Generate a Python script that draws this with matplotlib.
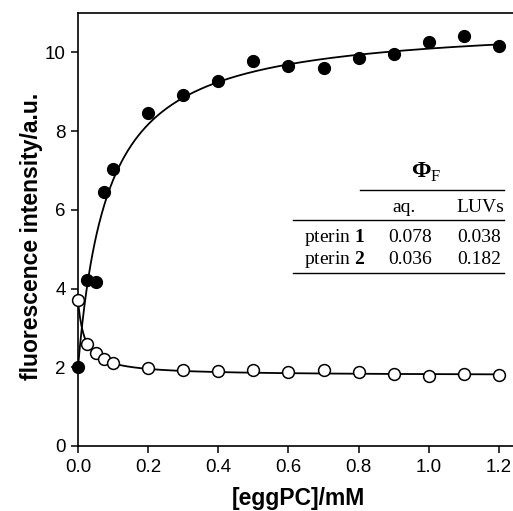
import numpy as np
import matplotlib.pyplot as plt

plt.rcParams["mathtext.fontset"] = "custom"
plt.rcParams["mathtext.rm"] = "Liberation Serif"
plt.rcParams["mathtext.bf"] = "Liberation Serif:bold"

# pterin 1 (filled) and pterin 2 (open) vs eggPC concentration
conc = [0.0, 0.025, 0.05, 0.075, 0.1, 0.2, 0.3, 0.4, 0.5, 0.6, 0.7, 0.8, 0.9, 1.0, 1.1, 1.2]
pterin1 = [2.0, 4.22, 4.17, 6.46, 7.03, 8.45, 8.91, 9.28, 9.77, 9.65, 9.60, 9.85, 9.95, 10.26, 10.42, 10.17]
pterin2 = [3.70, 2.59, 2.36, 2.22, 2.10, 1.98, 1.93, 1.91, 1.93, 1.87, 1.94, 1.88, 1.82, 1.79, 1.84, 1.80]

# fitted hyperbolic binding curves  y = y0 + A*x/(K+x)
fit1 = (2.0, 8.78, 0.0846)
fit2 = (3.70, -1.91, 0.0194)

# quantum yield table
table_cols = ["aq.", "LUVs"]
table_rows = ["1", "2"]
table_vals = [["0.078", "0.038"], ["0.036", "0.182"]]

fig = plt.figure(figsize=(5.13, 5.11), dpi=100)
ax = fig.add_axes([78 / 513, 1 - 446 / 511, 1 - 78 / 513, (446 - 13) / 511])

xf = np.linspace(0, 1.2, 600)
for (y0, a, k) in (fit1, fit2):
    ax.plot(xf, y0 + a * xf / (k + xf), color="black", lw=1.3, zorder=2)

ax.plot(conc, pterin1, "o", color="black", ms=8.5, clip_on=False, zorder=3)
ax.plot(conc, pterin2, "o", mfc="white", mec="black", mew=1.1, ms=8.5, clip_on=False, zorder=3)

ax.set_xlim(0, (513 - 78) / 350.8)
ax.set_ylim(0, 11)
ax.set_xticks([0.0, 0.2, 0.4, 0.6, 0.8, 1.0, 1.2])
ax.set_xticklabels(["0.0", "0.2", "0.4", "0.6", "0.8", "1.0", "1.2"])
ax.set_yticks([0, 2, 4, 6, 8, 10])
ax.spines["right"].set_visible(False)
for s in ax.spines.values():
    s.set_linewidth(1.2)
ax.tick_params(direction="out", length=5, width=1.1, labelsize=13.5, pad=4)
for lab in ax.get_xticklabels() + ax.get_yticklabels():
    lab.set_family("Liberation Sans")

ax.set_xlabel("[eggPC]/mM", family="Liberation Sans", fontsize=16.5, fontweight="bold")
ax.set_ylabel("fluorescence intensity/a.u.", family="Liberation Sans", fontsize=16.5,
              fontweight="bold")
ax.xaxis.set_label_coords(0.507, -0.095)
ax.yaxis.set_label_coords(-0.08, 0.485)

# table drawn in figure pixel coordinates
def fx(px):
    return px / 513

def fy(py):
    return 1 - py / 511

serif = dict(family="Liberation Serif", fontsize=14, transform=fig.transFigure)
fig.text(fx(426), fy(172), r"$\mathbf{\Phi}_{\mathrm{F}}$", ha="center", va="center",
         fontsize=17, transform=fig.transFigure)
fig.text(fx(404), fy(207), table_cols[0], ha="center", va="center", **serif)
fig.text(fx(480), fy(207), table_cols[1], ha="center", va="center", **serif)
row_y = [237, 260]
for i, r in enumerate(table_rows):
    fig.text(fx(304), fy(row_y[i]), "pterin $\\mathbf{%s}$" % r, ha="left", va="center", **serif)
    fig.text(fx(410), fy(row_y[i]), table_vals[i][0], ha="center", va="center", **serif)
    fig.text(fx(479), fy(row_y[i]), table_vals[i][1], ha="center", va="center", **serif)

for (x0, x1, py) in [(360, 504, 190), (293, 504, 220.5), (293, 504, 273)]:
    fig.add_artist(plt.Line2D([fx(x0), fx(x1)], [fy(py), fy(py)], color="black", lw=1.0,
                              transform=fig.transFigure))

fig.savefig("out.png", dpi=100)
